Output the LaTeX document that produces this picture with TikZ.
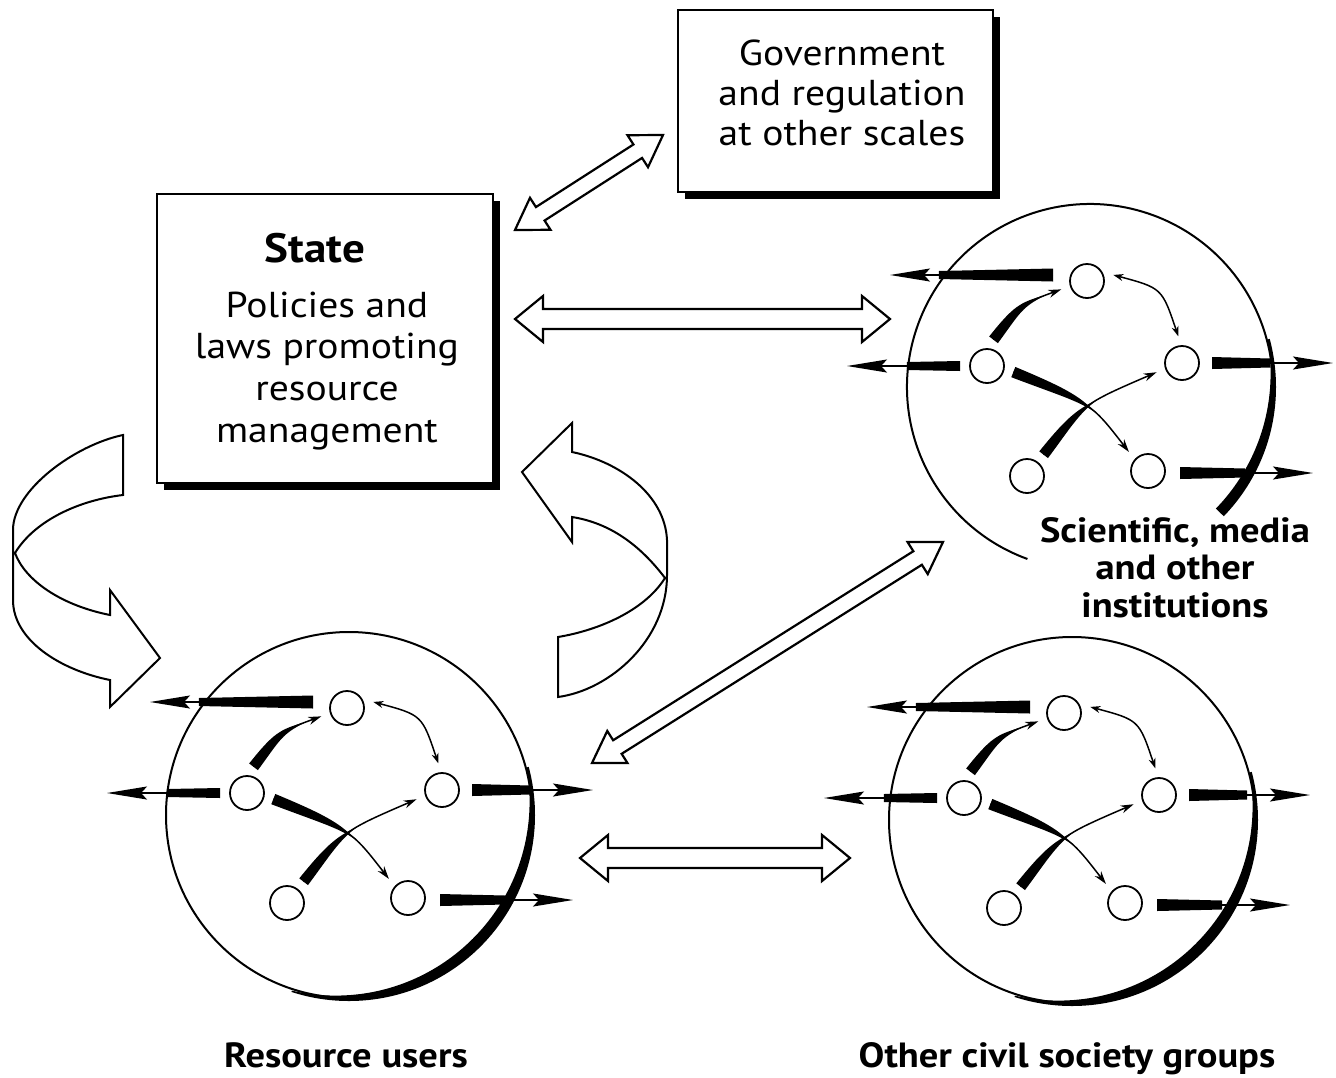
\documentclass[tikz,border=0pt]{standalone}
\usepackage{fontspec}
\setmainfont{PT Sans}[FakeStretch=1.1]
\usetikzlibrary{calc,arrows.meta,shadows}

\tikzset{
  boxnode/.style={draw, line width=1.8pt, fill=white, inner sep=0pt,
    drop shadow={shadow xshift=7pt, shadow yshift=-7pt, opacity=1, fill=black}},
  bigcirc/.style={circle, minimum size=366pt, inner sep=0pt, line width=2pt},
  smallc/.style={circle, draw, line width=1.8pt, fill=white, minimum size=34pt, inner sep=0pt, outer sep=10pt},
  ribbon/.style={draw, line width=2pt, fill=white, line join=miter},
  hollow/.style={draw, line width=2.2pt, fill=white, line join=miter},
  thinarr/.style={line width=1.5pt, -{Stealth[length=13pt,width=8pt]}},
  dblthin/.style={line width=1.5pt, {Stealth[length=10pt,width=7pt]}-{Stealth[length=10pt,width=7pt]}},
  extline/.style={line width=1.5pt, -{Stealth[length=40pt,width=13pt,inset=6pt]}},
  txt/.style={anchor=base, inner sep=0pt, font=\fontsize{36}{40}\selectfont},
  stxt/.style={anchor=base, inner sep=0pt, font=\fontsize{36}{41.7}\selectfont},
  btxt/.style={anchor=base, inner sep=0pt, font=\bfseries\fontsize{35}{37.5}\selectfont},
}

% tapered wedge along a curve: start, control, end, half width, fraction
\newcommand\wedgecurve[5]{%
  \coordinate (wq0) at ($(#1)!#5!(#2)$);
  \coordinate (wq2) at ($(#2)!#5!(#3)$);
  \coordinate (wr0) at ($(wq0)!#5!(#2)$);
  \coordinate (wr1) at ($(#2)!#5!(wq2)$);
  \coordinate (we) at ($(wr0)!#5!(wr1)$);
  \fill ($(#1)!#4!90:(wq0)$) .. controls ($(wq0)!0.85*#4!90:(wr0)$) and ($(wr0)!0.5*#4!90:(we)$) .. (we)
        .. controls ($(wr0)!0.5*#4!-90:(we)$) and ($(wq0)!0.85*#4!-90:(wr0)$) .. ($(#1)!#4!-90:(wq0)$) -- cycle;
}
% tapered bar with long arrow: start, tip, fraction, half width start, half width end
\newcommand\extarrow[5]{%
  \coordinate (xe) at ($(#1)!#3!(#2)$);
  \fill ($(#1)!#4!90:(#2)$) -- ($(xe)!#5!-90:(#1)$) -- ($(xe)!#5!90:(#1)$) -- ($(#1)!#4!-90:(#2)$) -- cycle;
  \draw[extline] (#1) -- (#2);
}
% hollow double arrow: A, B, shaft half width, head half width, head length
\newcommand\hollowarrow[5]{%
  \coordinate (ha1) at ($(#1)!#5!(#2)$);
  \coordinate (ha2) at ($(#2)!#5!(#1)$);
  \path[hollow] (#1) -- ($(ha1)!#4!90:(#2)$) -- ($(ha1)!#3!90:(#2)$) -- ($(ha2)!#3!-90:(#1)$)
     -- ($(ha2)!#4!-90:(#1)$) -- (#2) -- ($(ha2)!#4!90:(#1)$) -- ($(ha2)!#3!90:(#1)$)
     -- ($(ha1)!#3!-90:(#2)$) -- ($(ha1)!#4!-90:(#2)$) -- cycle;
}
% thick band on a big circle: cx, cy, end angle, middle angle
\newcommand\thickband[4]{%
  \begin{scope}
    \clip (#1,#2) -- ++(-15:260) -- ($(#1,#2)+(#4:380)$) -- ($(#1,#2)+(#3:260)$) -- cycle;
    \fill[even odd rule] (#1,#2) circle[radius=186] ($(#1,#2)+(225:19.05)$) circle[radius=194.05];
  \end{scope}
}
% cluster of five small circles with their links
\newcommand\drawcluster[3]{%
  \begin{scope}[shift={(#2,#3)}]
    \node[smallc] (#1T) at (-2,-107) {};
    \node[smallc] (#1L) at (-102,-22) {};
    \node[smallc] (#1R) at (93,-25) {};
    \node[smallc] (#1BL) at (-62,88) {};
    \node[smallc] (#1BR) at (59,83) {};
    \coordinate (#1ca) at (-68,-84);
    \coordinate (#1cb) at (73,-100);
    \coordinate (#1cc) at (2,15);
    \coordinate (#1cd) at (-6,16);
    \wedgecurve{#1L.76}{#1ca}{#1T.198}{5.5pt}{0.85}
    \draw[thinarr] (#1L.76) .. controls (#1ca) .. (#1T.198);
    \draw[dblthin] (#1T.13) .. controls (#1cb) .. (#1R.98);
    \wedgecurve{#1L.347}{#1cc}{#1BR.135}{5.5pt}{0.6}
    \draw[thinarr] (#1L.347) .. controls (#1cc) .. (#1BR.135);
    \wedgecurve{#1BL.52}{#1cd}{#1R.200}{5.5pt}{0.6}
    \draw[thinarr] (#1BL.52) .. controls (#1cd) .. (#1R.200);
    \coordinate (#1tA) at ([shift={(-34,-6)}]#1T.center);
    \coordinate (#1tB) at (-199,-113);
    \extarrow{#1tA}{#1tB}{0.7}{6.5pt}{4pt}
    \coordinate (#1lA) at ([shift={(-27,0)}]#1L.center);
    \coordinate (#1lB) at (-242,-22);
    \extarrow{#1lA}{#1lB}{0.47}{5pt}{4pt}
    \coordinate (#1rA) at ([shift={(30,0)}]#1R.center);
    \coordinate (#1rB) at (244,-25);
    \extarrow{#1rA}{#1rB}{0.48}{6pt}{4.5pt}
    \coordinate (#1bA) at ([shift={(32,2)}]#1BR.center);
    \coordinate (#1bB) at (224,85);
    \extarrow{#1bA}{#1bB}{0.49}{6pt}{4.5pt}
  \end{scope}
}

\begin{document}
\begin{tikzpicture}[x=1pt,y=-1pt]
\useasboundingbox (0,0) rectangle (1336,1077);

% boxes
\node[boxnode, minimum width=315pt, minimum height=182pt] (gov) at (835.5,101) {};
\node[txt] (govtext) at (842,65) {\begin{tabular}[t]{@{}c@{}}Government\\and regulation\\at other scales\end{tabular}};

\node[boxnode, minimum width=336pt, minimum height=289pt] (state) at (325,338.5) {};
\node[anchor=base, inner sep=0pt, font=\bfseries\fontsize{41}{42}\selectfont] (statetitle) at (315,262) {State};
\node[stxt] (statebody) at (327,317) {\begin{tabular}[t]{@{}c@{}}Policies and\\laws promoting\\resource\\management\end{tabular}};

% hollow double arrows
\coordinate (h1a) at (515,230); \coordinate (h1b) at (663,135);
\hollowarrow{h1a}{h1b}{8pt}{19pt}{30pt}
\coordinate (h2a) at (515,319); \coordinate (h2b) at (890,319);
\hollowarrow{h2a}{h2b}{10pt}{23pt}{28pt}
\coordinate (h3a) at (592,763); \coordinate (h3b) at (943,542);
\hollowarrow{h3a}{h3b}{8pt}{19pt}{30pt}
\coordinate (h4a) at (580,858); \coordinate (h4b) at (850,858);
\hollowarrow{h4a}{h4b}{10pt}{23pt}{28pt}

% ribbon arrows between State and Resource users
\path[ribbon] (123,435) .. controls (75,445) and (13,490) .. (13,530) -- (13,600)
  .. controls (13,640) and (60,670) .. (110,680) -- (110,707) -- (160,658) -- (110,590) -- (110,615)
  .. controls (60,605) and (25,580) .. (15,553)
  .. controls (35,520) and (80,500) .. (123,495) -- cycle;
\path[ribbon] (522,472) -- (572,423) -- (572,452) .. controls (620,462) and (665,495) .. (667,540)
  -- (667,575) .. controls (667,640) and (610,690) .. (558,697) -- (558,637)
  .. controls (600,630) and (645,610) .. (665,578)
  .. controls (640,545) and (610,523) .. (572,517) -- (572,542) -- cycle;

% Resource users
\node[bigcirc, draw] (ruC) at (349,815) {};
\thickband{349}{815}{108}{46.5}
\drawcluster{ru}{349}{815}
\node[btxt] (rulabel) at (346,1067) {Resource users};

% Scientific, media and other institutions
\node[bigcirc] (scC) at (1090,387) {};
\draw[line width=2pt] (scC.center) ++(110:183) arc[start angle=110, end angle=404, radius=183];
\thickband{1090}{387}{44}{14.5}
\drawcluster{sc}{1089}{388}
\node[btxt] (sclabel) at (1175,542) {\begin{tabular}[t]{@{}c@{}}Scientific, media\\and other\\institutions\end{tabular}};

% Other civil society groups
\node[bigcirc, draw] (ocC) at (1072,820) {};
\thickband{1072}{820}{108}{46.5}
\drawcluster{oc}{1066}{820}
\node[btxt] (oclabel) at (1067,1067) {Other civil society groups};
\end{tikzpicture}
\end{document}
